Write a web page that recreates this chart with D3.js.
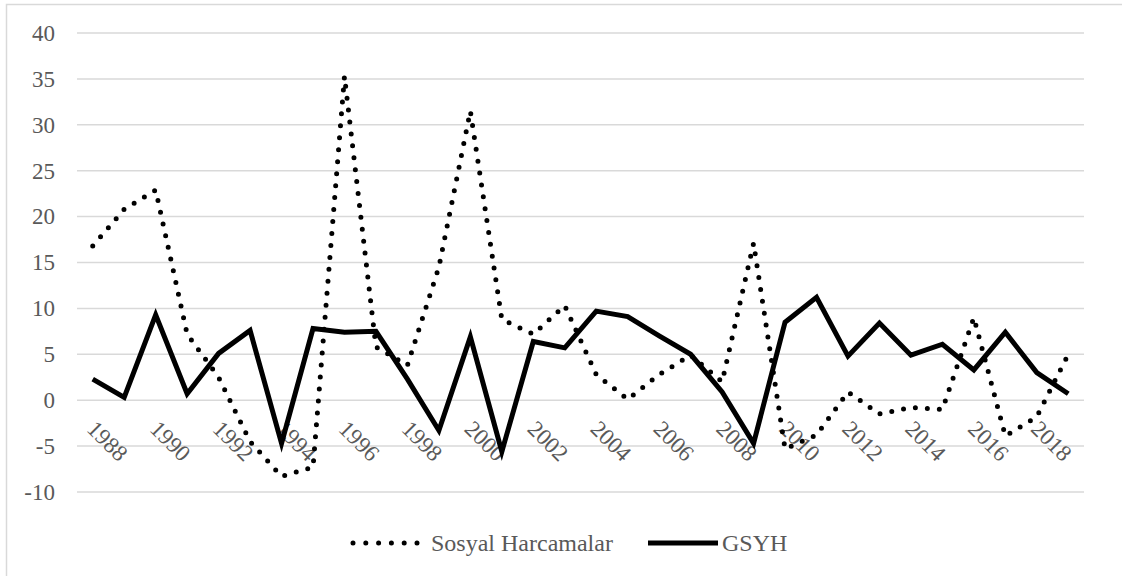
<!DOCTYPE html>
<html>
<head>
<meta charset="utf-8">
<style>
  body { margin: 0; background: #fff; }
  .grid line { stroke: #d9d9d9; stroke-width: 1.5px; }
</style>
</head>
<body>
<script src="https://d3js.org/d3.v7.min.js"></script>
<script>
// years on the x axis
var years = d3.range(1988, 2020);
// only every second year gets a label
var tickYears = d3.range(1988, 2020, 2);
var yTicks = [-10, -5, 0, 5, 10, 15, 20, 25, 30, 35, 40];

var sosyal = [16.8, 20.8, 22.9, 7.2, 2.5, -4.5, -8.3, -7.3, 35.3, 5.8,
              3.8, 14.5, 31.5, 8.8, 7.2, 10.3, 2.8, 0.1, 2.8, 4.9,
              2.0, 17.1, -5.3, -3.8, 0.9, -1.5, -0.8, -1.0, 9.0, -3.9,
              -1.8, 5.0];
var gsyh = [2.3, 0.3, 9.3, 0.7, 5.1, 7.6, -4.7, 7.8, 7.4, 7.5,
            2.3, -3.3, 6.9, -5.6, 6.4, 5.7, 9.7, 9.1, 7.0, 5.0,
            0.9, -4.7, 8.5, 11.2, 4.8, 8.4, 4.9, 6.1, 3.3, 7.4,
            3.0, 0.7];

var seriesNames = ["Sosyal Harcamalar", "GSYH"];

var W = 1122, H = 576;
var plot = {left: 77, right: 1084, top: 33, bottom: 492};
var FONT = "Liberation Serif";
var GREY = "#595959";

var svg = d3.select("body").append("svg")
    .attr("width", W)
    .attr("height", H);

// outer frame of the chart area
svg.append("rect")
    .attr("x", 6.5).attr("y", 4.5)
    .attr("width", 1130).attr("height", 600)
    .attr("fill", "none")
    .attr("stroke", "#d9d9d9")
    .attr("stroke-width", 1.5);

var x = d3.scaleBand().domain(years).range([plot.left, plot.right]);
var y = d3.scaleLinear().domain([-10, 40]).range([plot.bottom, plot.top]);

// gridlines
svg.append("g").attr("class", "grid")
    .selectAll("line").data(yTicks).enter().append("line")
    .attr("x1", plot.left).attr("x2", plot.right)
    .attr("y1", function(d){ return y(d); })
    .attr("y2", function(d){ return y(d); });

// y axis labels (plain hyphen for negatives, like the original)
var yAxis = d3.axisLeft(y).tickValues(yTicks).tickSize(0).tickPadding(22)
    .tickFormat(function(d){ return String(d); });
var yg = svg.append("g").attr("transform", "translate(" + plot.left + ",0)").call(yAxis);
yg.select(".domain").remove();
yg.attr("font-family", FONT).attr("font-size", 23);
yg.selectAll("text")
    .style("font-family", FONT)
    .style("font-size", "23px")
    .attr("fill", GREY);

// x labels, rotated, sitting under the zero line
svg.append("g").selectAll("text").data(tickYears).enter().append("text")
    .attr("transform", function(d){
        return "translate(" + (x(d) + x.bandwidth() / 2 - 7) + "," + (y(0) + 30) + ") rotate(45)";
    })
    .attr("text-anchor", "start")
    .attr("fill", GREY)
    .style("font-family", FONT)
    .style("font-size", "23px")
    .text(function(d){ return d; });

var line = d3.line()
    .x(function(d, i){ return x(years[i]) + x.bandwidth() / 2; })
    .y(function(d){ return y(d); });

svg.append("path")
    .attr("d", line(gsyh))
    .attr("fill", "none")
    .attr("stroke", "#000")
    .attr("stroke-width", 5)
    .attr("stroke-linejoin", "miter");

svg.append("path")
    .attr("d", line(sosyal))
    .attr("fill", "none")
    .attr("stroke", "#000")
    .attr("stroke-width", 5)
    .attr("stroke-linecap", "round")
    .attr("stroke-dasharray", "0 12");

// legend
var lg = svg.append("g").attr("transform", "translate(0,543)");
lg.append("line")
    .attr("x1", 353).attr("x2", 418).attr("y1", 0).attr("y2", 0)
    .attr("stroke", "#000").attr("stroke-width", 5)
    .attr("stroke-linecap", "round").attr("stroke-dasharray", "0 12.8");
lg.append("text").attr("x", 431).attr("y", 8)
    .attr("fill", GREY)
    .style("font-family", FONT).style("font-size", "24px")
    .text(seriesNames[0]);
lg.append("line")
    .attr("x1", 648).attr("x2", 718).attr("y1", 0).attr("y2", 0)
    .attr("stroke", "#000").attr("stroke-width", 5);
lg.append("text").attr("x", 722).attr("y", 8)
    .attr("fill", GREY)
    .style("font-family", FONT).style("font-size", "24px")
    .text(seriesNames[1]);
</script>
</body>
</html>
